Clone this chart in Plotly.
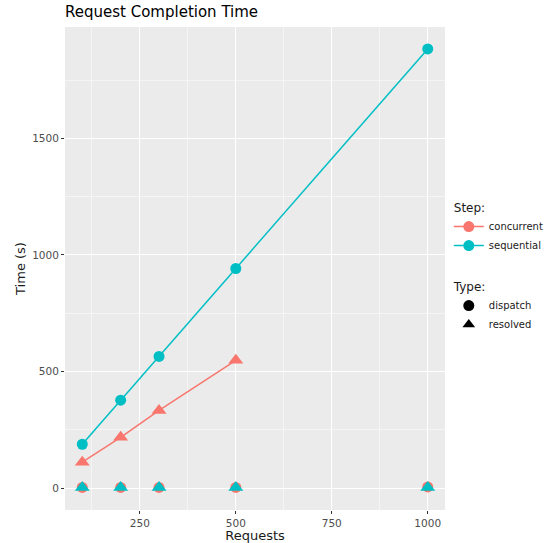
import plotly.graph_objects as go

requests = [100, 200, 300, 500, 1000]
conc_requests = [100, 200, 300, 500]
seq_dispatch = [188, 377, 565, 942, 1884]
seq_resolved = [2, 2, 2, 2, 3]
conc_resolved = [111, 218, 333, 548]
conc_dispatch = [3, 3, 3, 3, 5]

RED = "#F8766D"
CYAN = "#00BFC4"

fig = go.Figure()
# concurrent
fig.add_trace(go.Scatter(x=conc_requests, y=conc_resolved, mode="lines+markers",
                         line=dict(color=RED, width=1.5),
                         marker=dict(symbol="triangle-up", size=13, color=RED),
                         showlegend=False))
fig.add_trace(go.Scatter(x=requests, y=conc_dispatch, mode="markers",
                         marker=dict(symbol="circle", size=11, color=RED),
                         showlegend=False))
# sequential
fig.add_trace(go.Scatter(x=requests, y=seq_dispatch, mode="lines+markers",
                         line=dict(color=CYAN, width=1.5),
                         marker=dict(symbol="circle", size=11, color=CYAN),
                         showlegend=False))
fig.add_trace(go.Scatter(x=requests, y=seq_resolved, mode="markers",
                         marker=dict(symbol="triangle-up", size=13, color=CYAN),
                         showlegend=False))

# legend entries
for name, col in [("concurrent", RED), ("sequential", CYAN)]:
    fig.add_trace(go.Scatter(x=[None], y=[None], mode="lines+markers", name=name,
                             line=dict(color=col, width=1.5),
                             marker=dict(symbol="circle", size=11, color=col),
                             legendgroup="step", legendgrouptitle_text="Step:"))
for name, sym in [("dispatch", "circle"), ("resolved", "triangle-up")]:
    fig.add_trace(go.Scatter(x=[None], y=[None], mode="markers", name=name,
                             marker=dict(symbol=sym, size=11, color="black"),
                             legendgroup="type", legendgrouptitle_text="Type:"))

fig.update_layout(
    width=552, height=543,
    margin=dict(l=65, r=107, t=27, b=33, autoexpand=False),
    paper_bgcolor="white", plot_bgcolor="#EBEBEB",
    font=dict(family="DejaVu Sans", color="#1A1A1A"),
    title=dict(text="Request Completion Time", x=65/552, xref="container", xanchor="left",
               y=0.988, yanchor="top", font=dict(size=15, color="black")),
    legend=dict(x=1.01, xanchor="left", y=0.505, yanchor="middle",
                tracegroupgap=22, font=dict(size=10),
                grouptitlefont=dict(size=12), bgcolor="rgba(0,0,0,0)",
                itemwidth=30),
    xaxis=dict(range=[55, 1045], tickvals=[250, 500, 750, 1000],
               showgrid=True, gridcolor="white", gridwidth=1.2,
               minor=dict(tickvals=[125, 375, 625, 875], showgrid=True,
                          gridcolor="#F5F5F5", gridwidth=0.6),
               zeroline=False, ticks="outside", ticklen=3, tickcolor="#333333",
               tickfont=dict(size=10.5, color="#4D4D4D"), automargin=False,
               title=dict(text="Requests", font=dict(size=13), standoff=4)),
    yaxis=dict(range=[-94, 1978], tickvals=[0, 500, 1000, 1500],
               showgrid=True, gridcolor="white", gridwidth=1.2,
               minor=dict(tickvals=[250, 750, 1250, 1750], showgrid=True,
                          gridcolor="#F5F5F5", gridwidth=0.6),
               zeroline=False, ticks="outside", ticklen=3, tickcolor="#333333",
               tickfont=dict(size=10.5, color="#4D4D4D"), automargin=False,
               title=dict(text="Time (s)", font=dict(size=13), standoff=3)),
)

fig.write_html("out.html", config={"displayModeBar": False},
               post_script="document.body.style.margin='0';")
